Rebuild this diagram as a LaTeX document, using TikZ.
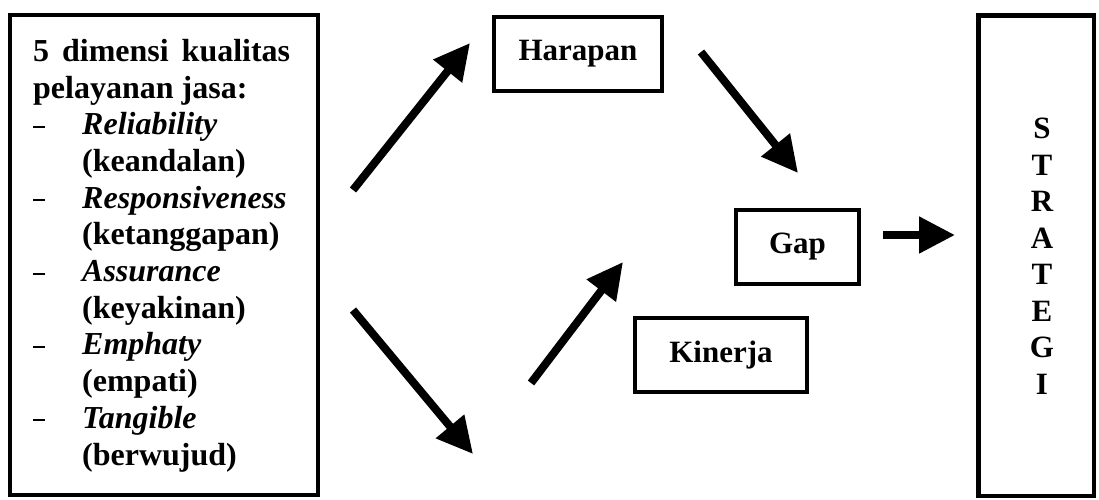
\documentclass[tikz,border=0pt]{standalone}
\usepackage{fontspec}
\setmainfont{Liberation Serif}
\usetikzlibrary{arrows.meta}
\newcommand{\dimdash}{\makebox[49pt][l]{\rule[7pt]{12pt}{2pt}}}
\newcommand{\dimind}{\hspace*{49pt}}
\begin{document}
\begin{tikzpicture}[x=1pt,y=-1pt,
  box/.style={draw,line width=4pt,rectangle,inner sep=0pt},
  lbl/.style={font=\fontsize{31}{36.5}\selectfont\bfseries},
  dimlbl/.style={font=\fontsize{32}{36.7}\selectfont\bfseries},
  bigarrow/.style={line width=8pt,-{Triangle[length=36pt,width=35pt]}}]
\useasboundingbox (0,0) rectangle (1099,499);
% boxes
\node[box,minimum width=308pt,minimum height=480pt] (dim) at (164,255) {};
\node[dimlbl,align=left,anchor=base west,inner sep=0pt] (dimtext) at (33,465)
  {\makebox[257pt][s]{5 dimensi kualitas}\\
   pelayanan jasa:\\
   \dimdash\textit{Reliability}\\
   \dimind(keandalan)\\
   \dimdash\textit{Responsiveness}\\
   \dimind(ketanggapan)\\
   \dimdash\textit{Assurance}\\
   \dimind(keyakinan)\\
   \dimdash\textit{Emphaty}\\
   \dimind(empati)\\
   \dimdash\textit{Tangible}\\
   \dimind(berwujud)};
\node[box,lbl,minimum width=168pt,minimum height=74pt] (harapan) at (578,54) {Harapan};
\node[box,lbl,minimum width=123pt,minimum height=74pt] (gap) at (797.5,247) {Gap};
\node[box,lbl,minimum width=172pt,minimum height=74pt] (kinerja) at (721,355) {Kinerja};
\node[box,line width=4.5pt,minimum width=115.5pt,minimum height=480.5pt] (strategi) at (1036,255.5) {};
\node[lbl,align=center,inner sep=0pt] (strategitext) at (1042,256)
  {S\\T\\R\\A\\T\\E\\G\\I};
% arrow end points
\coordinate (a1s) at (353,190); \coordinate (a1e) at (470,43);
\coordinate (a2s) at (353,310); \coordinate (a2e) at (473,454);
\coordinate (a3s) at (531,383); \coordinate (a3e) at (623,262);
\coordinate (a4s) at (701,52);  \coordinate (a4e) at (798,173);
\coordinate (a5s) at (883,235); \coordinate (a5e) at (955,235);
\draw[bigarrow] (a1s) -- (a1e);
\draw[bigarrow] (a2s) -- (a2e);
\draw[bigarrow] (a3s) -- (a3e);
\draw[bigarrow] (a4s) -- (a4e);
\draw[bigarrow] (a5s) -- (a5e);
\end{tikzpicture}
\end{document}
